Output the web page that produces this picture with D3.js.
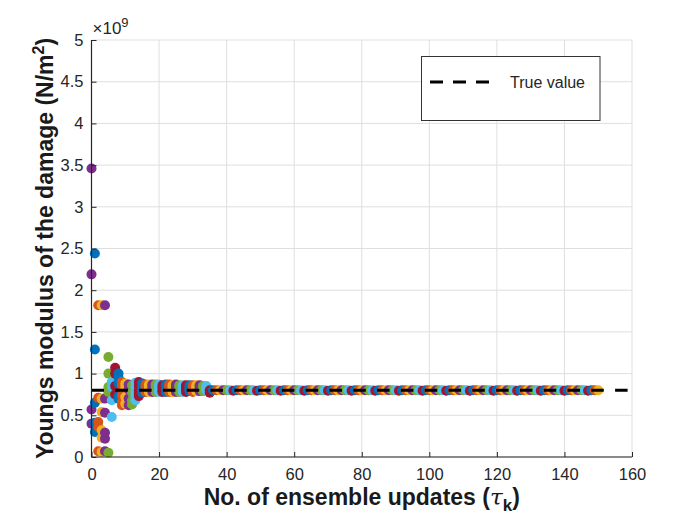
<!DOCTYPE html>
<html>
<head>
<meta charset="utf-8">
<script src="https://cdn.jsdelivr.net/npm/d3@7"></script>
<style>
  body { margin: 0; background: #fff; }
  svg text { font-family: "Liberation Sans", Arial, Helvetica, sans-serif; }
  .tick text { fill: #262626; font-size: 16.5px; font-family: "Liberation Sans", Arial, Helvetica, sans-serif; }
  .axis .domain, .axis line { stroke: #262626; }
</style>
</head>
<body>
<div id="container"></div>
<script>

//---------------------
// DATA (values in units of 1e9 N/m^2)
//---------------------

// update 0 (initial ensemble)
const update_0 = [3.46, 2.19, 0.57, 0.40];

// updates 1..35, one array of ensemble members per update
const updates_early = [
  [2.44, 1.29, 0.65, 0.41, 0.30],            // 1
  [1.82, 0.71, 0.42, 0.36, 0.07],            // 2
  [1.82, 0.70, 0.54, 0.32, 0.23, 0.06],      // 3
  [1.82, 0.70, 0.53, 0.29, 0.22, 0.07],      // 4
  [1.20, 1.00, 0.84, 0.78, 0.05],            // 5
  [0.90, 0.84, 0.68, 0.48],                  // 6
  [1.07, 1.00, 0.85, 0.75],                  // 7
  [1.00, 0.95, 0.88, 0.73, 0.70],            // 8
  [0.90, 0.86, 0.74, 0.66, 0.62],            // 9
  [0.88, 0.84, 0.72, 0.64],                  // 10
  [0.87, 0.81, 0.70, 0.62],                  // 11
  [0.86, 0.77, 0.68, 0.63],                  // 12
  [0.89, 0.84, 0.78, 0.73, 0.68],            // 13
  [0.90, 0.85, 0.80, 0.76, 0.73],            // 14
  [0.88, 0.84, 0.80, 0.77],                  // 15
  [0.87, 0.84, 0.81, 0.78],                  // 16
  [0.87, 0.84, 0.81, 0.78],                  // 17
  [0.87, 0.84, 0.81, 0.78],                  // 18
  [0.87, 0.84, 0.80, 0.78],                  // 19
  [0.87, 0.84, 0.81, 0.78],                  // 20
  [0.86, 0.83, 0.80, 0.78],                  // 21
  [0.87, 0.84, 0.81, 0.78],                  // 22
  [0.87, 0.84, 0.81, 0.78],                  // 23
  [0.86, 0.83, 0.80, 0.78],                  // 24
  [0.87, 0.84, 0.81, 0.78],                  // 25
  [0.86, 0.84, 0.81, 0.78],                  // 26
  [0.86, 0.83, 0.80, 0.78],                  // 27
  [0.86, 0.84, 0.81, 0.78],                  // 28
  [0.86, 0.83, 0.81, 0.79],                  // 29
  [0.86, 0.83, 0.80, 0.78],                  // 30
  [0.86, 0.83, 0.81, 0.79],                  // 31
  [0.86, 0.83, 0.81, 0.79],                  // 32
  [0.85, 0.82, 0.80, 0.79],                  // 33
  [0.85, 0.82, 0.80],                        // 34
  [0.80, 0.77]                               // 35
];

// updates 36..150, ensemble collapsed onto one value
const updates_late = [
  0.80, 0.80, 0.80, 0.80, 0.80, 0.80, 0.795,             // 36-42
  0.80, 0.80, 0.80, 0.80, 0.80, 0.80, 0.795,             // 43-49
  0.80, 0.80, 0.80, 0.80, 0.80, 0.80, 0.795,             // 50-56
  0.80, 0.80, 0.80, 0.80, 0.80, 0.80, 0.795,             // 57-63
  0.80, 0.80, 0.80, 0.80, 0.80, 0.80, 0.795,             // 64-70
  0.80, 0.80, 0.80, 0.80, 0.80, 0.80, 0.795,             // 71-77
  0.80, 0.80, 0.80, 0.80, 0.80, 0.80, 0.795,             // 78-84
  0.80, 0.80, 0.80, 0.80, 0.80, 0.80, 0.795,             // 85-91
  0.80, 0.80, 0.80, 0.80, 0.80, 0.80, 0.795,             // 92-98
  0.80, 0.80, 0.80, 0.80, 0.80, 0.80, 0.795,             // 99-105
  0.80, 0.80, 0.80, 0.80, 0.80, 0.80, 0.795,             // 106-112
  0.80, 0.80, 0.80, 0.80, 0.80, 0.80, 0.795,             // 113-119
  0.80, 0.80, 0.80, 0.80, 0.80, 0.80, 0.795,             // 120-126
  0.80, 0.80, 0.80, 0.80, 0.80, 0.80, 0.795,             // 127-133
  0.80, 0.80, 0.80, 0.80, 0.80, 0.80, 0.795,             // 134-140
  0.80, 0.80, 0.80, 0.80, 0.80, 0.80, 0.795,             // 141-147
  0.80, 0.80, 0.80                                       // 148-150
];

const true_value = 0.8;

const ticks_x = [0, 20, 40, 60, 80, 100, 120, 140, 160];
const ticks_y = [0, 0.5, 1, 1.5, 2, 2.5, 3, 3.5, 4, 4.5, 5];

// matlab default colour order, cycles once per update
const colours = ['#0072bd', '#d95319', '#edb120', '#7e2f8e', '#77ac30', '#4dbeee', '#a2142f'];
const colour_initial = '#7e2f8e';

//---------------------
// SVG + SCALES
//---------------------

const width = 700, height = 525;
const margin = { left: 91.5, right: 68, top: 40, bottom: 68 };

const svg = d3.select('#container')
              .append('svg')
              .attr('width', width)
              .attr('height', height);

const scale_x = d3.scaleLinear()
                  .domain([0, 160])
                  .range([margin.left, width - margin.right]);

const scale_y = d3.scaleLinear()
                  .domain([0, 5])
                  .range([height - margin.bottom, margin.top]);

//---------------------
// GRID
//---------------------

const grid = svg.append('g').attr('class', 'grid');

grid.selectAll('line.gx')
    .data(ticks_x)
    .enter()
    .append('line')
    .attr('x1', d => scale_x(d))
    .attr('x2', d => scale_x(d))
    .attr('y1', scale_y(0))
    .attr('y2', scale_y(5))
    .attr('stroke', '#dfdfdf')
    .attr('stroke-width', 1);

grid.selectAll('line.gy')
    .data(ticks_y)
    .enter()
    .append('line')
    .attr('x1', scale_x(0))
    .attr('x2', scale_x(160))
    .attr('y1', d => scale_y(d))
    .attr('y2', d => scale_y(d))
    .attr('stroke', '#dfdfdf')
    .attr('stroke-width', 1);

//---------------------
// POINTS
//---------------------

const points = [];
update_0.forEach(v => points.push({ k: 0, v, c: colour_initial }));
updates_early.forEach((arr, i) => {
  arr.forEach(v => points.push({ k: i + 1, v, c: colours[i % 7] }));
});
updates_late.forEach((v, i) => {
  const k = i + 36;
  points.push({ k, v, c: colours[(k - 1) % 7] });
});

svg.append('g')
   .selectAll('circle')
   .data(points)
   .enter()
   .append('circle')
   .attr('cx', d => scale_x(d.k))
   .attr('cy', d => scale_y(d.v))
   .attr('r', 5)
   .attr('fill', d => d.c);

// true value, dashed
svg.append('line')
   .attr('x1', scale_x(0))
   .attr('x2', scale_x(160))
   .attr('y1', scale_y(true_value))
   .attr('y2', scale_y(true_value))
   .attr('stroke', '#000')
   .attr('stroke-width', 3)
   .attr('stroke-dasharray', '12.5 11.3');

//---------------------
// AXES
//---------------------

const axis_x = d3.axisBottom(scale_x)
                 .tickValues(ticks_x)
                 .tickFormat(d3.format('d'))
                 .tickSizeInner(-5)
                 .tickSizeOuter(0)
                 .tickPadding(11);

svg.append('g')
   .attr('class', 'axis')
   .attr('transform', `translate(0, ${scale_y(0)})`)
   .call(axis_x)
   .call(g => g.select('.domain').remove());

const axis_y = d3.axisLeft(scale_y)
                 .tickValues(ticks_y)
                 .tickFormat(d3.format('~g'))
                 .tickSizeInner(-5)
                 .tickSizeOuter(0)
                 .tickPadding(8);

svg.append('g')
   .attr('class', 'axis')
   .attr('transform', `translate(${scale_x(0)}, 0)`)
   .call(axis_y)
   .call(g => g.select('.domain').remove());

// left + bottom box lines
svg.append('line')
   .attr('x1', scale_x(0)).attr('x2', scale_x(0))
   .attr('y1', scale_y(0)).attr('y2', scale_y(5))
   .attr('stroke', '#262626').attr('stroke-width', 1.2);

svg.append('line')
   .attr('x1', scale_x(0)).attr('x2', scale_x(160))
   .attr('y1', scale_y(0)).attr('y2', scale_y(0))
   .attr('stroke', '#262626').attr('stroke-width', 1.2);

// exponent label
const expo = svg.append('text')
                .attr('x', scale_x(0) + 1)
                .attr('y', margin.top - 6)
                .attr('fill', '#262626')
                .attr('font-size', 17);
expo.append('tspan').text('\u00d710');
expo.append('tspan').attr('font-size', 13).attr('dy', -7).text('9');

//---------------------
// AXIS TITLES
//---------------------

const title_x = svg.append('text')
                   .attr('x', (scale_x(0) + scale_x(160)) / 2)
                   .attr('y', 505)
                   .attr('text-anchor', 'middle')
                   .attr('font-size', 23)
                   .attr('font-weight', 'bold')
                   .attr('fill', '#1a1a1a');
title_x.append('tspan').text('No. of ensemble updates (');
title_x.append('tspan').attr('font-style', 'italic').attr('font-weight', 'normal').attr('font-family', '"DejaVu Serif", serif').text('\u03c4');
title_x.append('tspan').attr('font-size', 17).attr('dy', 6).text('k');
title_x.append('tspan').attr('dy', -6).text(')');

const title_y = svg.append('text')
                   .attr('transform', `translate(53, ${(scale_y(0) + scale_y(5)) / 2}) rotate(-90)`)
                   .attr('text-anchor', 'middle')
                   .attr('font-size', 23)
                   .attr('font-weight', 'bold')
                   .attr('fill', '#1a1a1a');
title_y.append('tspan').text('Youngs modulus of the damage (N/m');
title_y.append('tspan').attr('font-size', 16).attr('dy', -9).text('2');
title_y.append('tspan').attr('dy', 9).text(')');

//---------------------
// LEGEND
//---------------------

const legend = svg.append('g');

legend.append('rect')
      .attr('x', 421.5)
      .attr('y', 56.5)
      .attr('width', 178.5)
      .attr('height', 64)
      .attr('fill', '#fff')
      .attr('stroke', '#333')
      .attr('stroke-width', 1);

legend.append('line')
      .attr('x1', 430).attr('x2', 491)
      .attr('y1', 82).attr('y2', 82)
      .attr('stroke', '#000')
      .attr('stroke-width', 3)
      .attr('stroke-dasharray', '13 10');

legend.append('text')
      .attr('x', 510)
      .attr('y', 88)
      .attr('font-size', 16)
      .attr('fill', '#262626')
      .text('True value');

</script>
</body>
</html>
